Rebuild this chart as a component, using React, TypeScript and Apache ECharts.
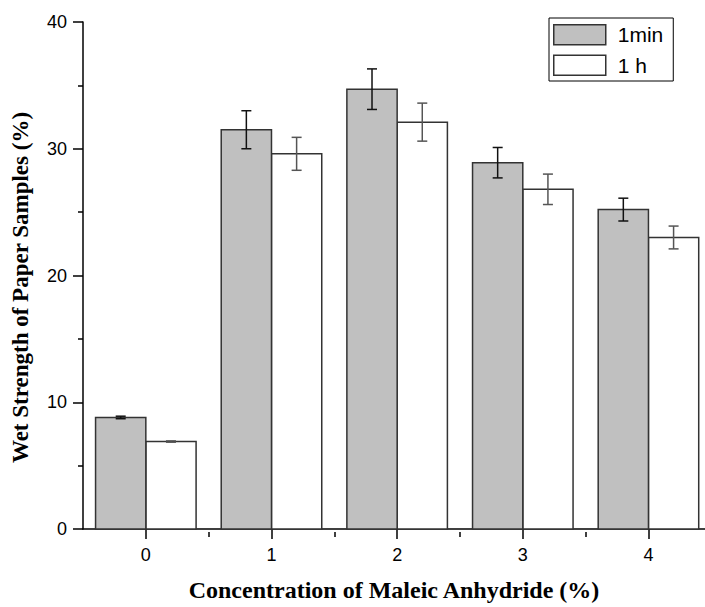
import React, { useEffect, useRef } from "react";
import * as echarts from "echarts";

const categories = [0, 1, 2, 3, 4];
const minorXTicks = [0.5, 1.5, 2.5, 3.5];
const minValues = [8.8, 31.5, 34.7, 28.9, 25.2];
const minErrors = [0.1, 1.5, 1.6, 1.2, 0.9];
const hourValues = [6.9, 29.6, 32.1, 26.8, 23.0];
const hourErrors = [0.05, 1.3, 1.5, 1.2, 0.9];
const yTicks = [0, 10, 20, 30, 40];

const BAR_W = 0.4;

function makeRender(side: number, errColor: string) {
  return (params: any, api: any) => {
    const x = api.value(0);
    const v = api.value(1);
    const e = api.value(2);
    const x0 = side < 0 ? x - BAR_W : x;
    const x1 = side < 0 ? x : x + BAR_W;
    const p0 = api.coord([x0, v]);
    const p1 = api.coord([x1, 0]);
    const c = api.coord([(x0 + x1) / 2, v + e]);
    const cb = api.coord([(x0 + x1) / 2, v - e]);
    const style = api.style();
    const cap = 5;
    return {
      type: "group",
      children: [
        {
          type: "rect",
          shape: { x: p0[0], y: p0[1], width: p1[0] - p0[0], height: p1[1] - p0[1] },
          style: { fill: style.fill, stroke: "#333", lineWidth: 1.5 },
        },
        {
          type: "line",
          shape: { x1: c[0], y1: c[1], x2: cb[0], y2: cb[1] },
          style: { stroke: errColor, lineWidth: 1.5 },
        },
        {
          type: "line",
          shape: { x1: c[0] - cap, y1: c[1], x2: c[0] + cap, y2: c[1] },
          style: { stroke: errColor, lineWidth: 1.5 },
        },
        {
          type: "line",
          shape: { x1: cb[0] - cap, y1: cb[1], x2: cb[0] + cap, y2: cb[1] },
          style: { stroke: errColor, lineWidth: 1.5 },
        },
      ],
    };
  };
}

export default function App() {
  const ref = useRef<HTMLDivElement>(null);
  useEffect(() => {
    if (!ref.current) return;
    const chart = echarts.init(ref.current, null, { renderer: "svg" });
    const axisLine = { show: true, onZero: false, lineStyle: { color: "#000", width: 1.5 } };
    const tickStyle = { color: "#000", width: 1.5 };
    const X_MIN = -0.5;
    const X_MAX = 4.45;
    chart.setOption({
      animation: false,
      backgroundColor: "#fff",
      grid: [
        { left: 83, right: 0, top: 22, bottom: 75 },
        { left: 83, right: 0, top: 531, bottom: 75 },
      ],
      legend: {
        orient: "vertical",
        left: 549,
        top: 18,
        padding: [6, 10, 5, 4],
        itemGap: 9,
        itemWidth: 52,
        itemHeight: 20,
        borderColor: "#000",
        borderWidth: 1,
        borderRadius: 0,
        icon: "rect",
        textStyle: { fontFamily: "Liberation Sans, Arial", fontSize: 21, color: "#000", padding: [0, 0, 0, 7] },
        data: [
          { name: "1min", itemStyle: { color: "#c0c0c0", borderColor: "#333", borderWidth: 1.5 } },
          { name: "1 h", itemStyle: { color: "#fff", borderColor: "#333", borderWidth: 1.5 } },
        ],
      },
      xAxis: [
        {
          type: "value",
          gridIndex: 0,
          min: X_MIN,
          max: X_MAX,
          name: "Concentration of Maleic Anhydride (%)",
          nameLocation: "middle",
          nameGap: 49,
          nameTextStyle: { fontFamily: "Liberation Serif, Times New Roman", fontWeight: "bold", fontSize: 24, color: "#000" },
          axisLine,
          axisTick: { show: true, length: 10, lineStyle: tickStyle, customValues: categories },
          axisLabel: { customValues: categories, fontFamily: "Liberation Sans, Arial", fontSize: 18, color: "#000", margin: 17 },
          splitLine: { show: false },
        },
        {
          type: "value",
          gridIndex: 1,
          min: X_MIN,
          max: X_MAX,
          position: "bottom",
          axisLine: { show: false, onZero: false },
          axisTick: { show: true, length: 5, lineStyle: tickStyle, customValues: minorXTicks },
          axisLabel: { show: false, customValues: minorXTicks },
          splitLine: { show: false },
        },
      ],
      yAxis: [
        {
          type: "value",
          gridIndex: 0,
          min: yTicks[0],
          max: yTicks[yTicks.length - 1],
          interval: 10,
          name: "Wet Strength of Paper Samples (%)",
          nameLocation: "middle",
          nameGap: 51,
          nameTextStyle: {
            fontFamily: "Liberation Serif, Times New Roman",
            fontWeight: "bold",
            fontSize: 23,
            color: "#000",
            padding: [0, 24, 0, 0],
          },
          axisLine,
          axisTick: { show: true, length: 10, lineStyle: tickStyle },
          minorTick: { show: true, splitNumber: 2, length: 5, lineStyle: tickStyle },
          axisLabel: { fontFamily: "Liberation Sans, Arial", fontSize: 18, color: "#000", margin: 16 },
          splitLine: { show: false },
        },
        {
          type: "value",
          gridIndex: 1,
          show: false,
          min: 0,
          max: 1,
        },
      ],
      series: [
        {
          name: "1min",
          type: "custom",
          xAxisIndex: 0,
          yAxisIndex: 0,
          itemStyle: { color: "#c0c0c0", borderColor: "#333", borderWidth: 1.5 },
          renderItem: makeRender(-1, "#111"),
          encode: { x: 0, y: [1] },
          data: categories.map((c, i) => [c, minValues[i], minErrors[i]]),
          z: 3,
        },
        {
          name: "1 h",
          type: "custom",
          xAxisIndex: 0,
          yAxisIndex: 0,
          itemStyle: { color: "#fff", borderColor: "#333", borderWidth: 1.5 },
          renderItem: makeRender(1, "#555"),
          encode: { x: 0, y: [1] },
          data: categories.map((c, i) => [c, hourValues[i], hourErrors[i]]),
          z: 2,
        },
      ],
    });
    return () => chart.dispose();
  }, []);
  return <div ref={ref} style={{ width: 705, height: 607, position: "absolute", left: 0, top: 0 }} />;
}
